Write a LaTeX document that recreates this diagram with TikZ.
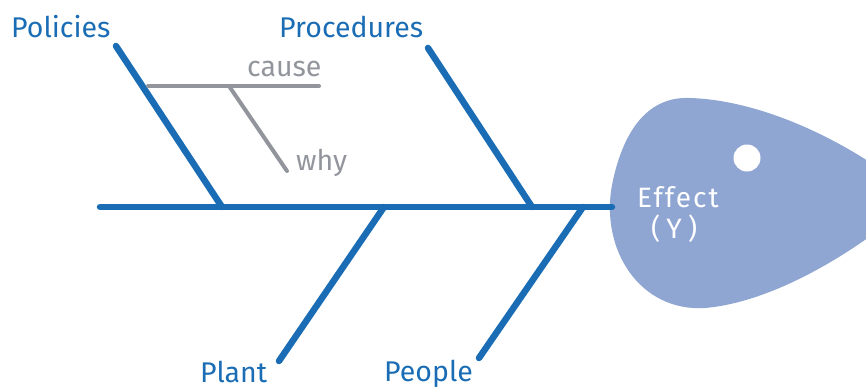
\documentclass[tikz,border=0pt]{standalone}
\usepackage{fontspec}
\setmainfont{Fira Sans}
\definecolor{bone}{RGB}{26,109,181}
\definecolor{twig}{RGB}{146,150,156}
\definecolor{head}{RGB}{143,166,211}
\begin{document}
\begin{tikzpicture}[x=1pt,y=-1pt,
  bonestyle/.style={draw=bone,line width=6.5pt,line cap=round},
  twigstyle/.style={draw=twig,line width=4pt,line cap=round},
  bonelabel/.style={text=bone,font=\fontsize{28.5}{30}\selectfont,inner sep=0pt},
  twiglabel/.style={text=twig,font=\fontsize{28.5}{30}\selectfont,inner sep=0pt}]
\useasboundingbox (0,0) rectangle (866,389);
\clip (0,0) rectangle (866,389);

% fish head
\fill[head] (918,198) .. controls (850,140) and (760,100) .. (690,98)
  .. controls (645,96) and (622,135) .. (612,185)
  .. controls (600,250) and (640,312) .. (705,308)
  .. controls (775,302) and (860,250) .. (918,198) -- cycle;
\fill[white] (747,158) circle (13.5);
\node[text=white,font=\fontsize{28}{30}\selectfont,inner sep=0pt,anchor=base west] (effect) at (637,207)
  {\addfontfeature{LetterSpace=7}Effect};
\node[text=white,font=\fontsize{28}{30}\selectfont,inner sep=0pt,anchor=base west] (ylabel) at (651,238)
  {\addfontfeature{LetterSpace=22}(Y)};

% spine
\coordinate (tail) at (100,207);
\coordinate (headjoin) at (612,207);
\draw[bonestyle] (tail) -- (headjoin);

% bone ends
\coordinate (polA) at (116,46);   \coordinate (polB) at (222,207);
\coordinate (proA) at (428,48);   \coordinate (proB) at (532,207);
\coordinate (plaA) at (279,361);  \coordinate (plaB) at (384,207);
\coordinate (peoA) at (479,358);  \coordinate (peoB) at (583,207);
\draw[bonestyle] (polA) -- (polB);
\draw[bonestyle] (proA) -- (proB);
\draw[bonestyle] (plaA) -- (plaB);
\draw[bonestyle] (peoA) -- (peoB);

% cause / why twigs
\coordinate (cauA) at (148,86);  \coordinate (cauB) at (319,86);
\coordinate (whyA) at (229,86);  \coordinate (whyB) at (287,171);
\draw[twigstyle] (cauA) -- (cauB);
\draw[twigstyle] (whyA) -- (whyB);

% labels
\node[bonelabel,anchor=base west] (policies) at (11,37) {Policies};
\node[bonelabel,anchor=base west] (procedures) at (279,37) {Procedures};
\node[bonelabel,anchor=base west] (plant) at (200,382) {Plant};
\node[bonelabel,anchor=base west] (people) at (384,381) {People};
\node[twiglabel,anchor=base west] (cause) at (247,76) {cause};
\node[twiglabel,anchor=base west] (why) at (296,170) {why};
\end{tikzpicture}
\end{document}
